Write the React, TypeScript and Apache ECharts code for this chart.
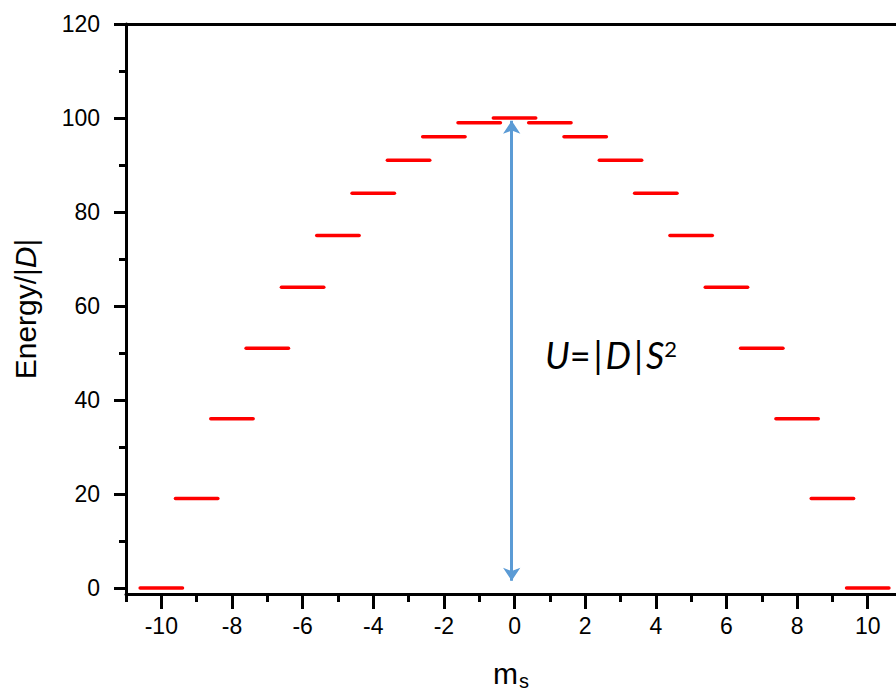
import React, { useEffect, useRef } from 'react';
import * as echarts from 'echarts';

// Spin projections m_s and their energies (in units of |D|)
const spinProjections = [-10, -9, -8, -7, -6, -5, -4, -3, -2, -1, 0, 1, 2, 3, 4, 5, 6, 7, 8, 9, 10];
const levelEnergies = [0, 19, 36, 51, 64, 75, 84, 91, 96, 99, 100, 99, 96, 91, 84, 75, 64, 51, 36, 19, 0];

// Axis ticks
const xMajorTicks = [-10, -8, -6, -4, -2, 0, 2, 4, 6, 8, 10];
const xMinorTicks = [-11, -9, -7, -5, -3, -1, 1, 3, 5, 7, 9];
const yMajorTicks = [0, 20, 40, 60, 80, 100, 120];
const yMinorTicks = [10, 30, 50, 70, 90, 110];

// Barrier arrow: m position and its two tip energies
const barrierArrowM = -0.08;
const barrierArrowTop = 99.4;
const barrierArrowBottom = 1.5;

const X_MIN = -11;
const X_MAX = 10.8;
const Y_MIN = -1.3;
const Y_MAX = 120;
const LEVEL_HALF_WIDTH = 0.6;

const AXIS_FONT = '"Liberation Sans", Arial, sans-serif';
const AXIS_COLOR = '#000';
const FORMULA_FONT = 'Lato, "Open Sans", sans-serif';

export default function App() {
  const ref = useRef<HTMLDivElement>(null);

  useEffect(() => {
    document.body.style.margin = '0';
    if (!ref.current) return;
    const chart = echarts.init(ref.current, undefined, { renderer: 'svg' });

    const levelData = spinProjections.map((m, i) => [m, levelEnergies[i]]);

    const baseX = {
      type: 'value' as const,
      min: X_MIN,
      max: X_MAX,
      splitLine: { show: false },
      gridIndex: 0,
    };
    const baseY = {
      type: 'value' as const,
      min: Y_MIN,
      max: Y_MAX,
      splitLine: { show: false },
      gridIndex: 0,
    };

    chart.setOption({
      animation: false,
      backgroundColor: '#fff',
      grid: { left: 126, right: 0, top: 24, bottom: 98, outerBoundsMode: 'none' },
      xAxis: [
        {
          ...baseX,
          position: 'bottom',
          name: '{m|m}{s|s}',
          nameLocation: 'middle',
          nameGap: 61,
          nameMoveOverlap: false,
          nameTextStyle: {
            rich: {
              m: { fontSize: 30, fontFamily: AXIS_FONT, color: AXIS_COLOR },
              s: { fontSize: 20, fontFamily: AXIS_FONT, color: AXIS_COLOR, padding: [16, 0, 0, 1] },
            },
          },
          axisLine: { show: true, onZero: false, lineStyle: { color: AXIS_COLOR, width: 3 } },
          axisTick: { show: true, customValues: xMinorTicks, length: 8, lineStyle: { color: AXIS_COLOR, width: 3 } },
          axisLabel: {
            show: true,
            customValues: xMajorTicks,
            margin: 20,
            fontSize: 23,
            fontFamily: AXIS_FONT,
            color: AXIS_COLOR,
          },
        },
        {
          ...baseX,
          position: 'bottom',
          axisLine: { show: false, onZero: false },
          axisTick: { show: true, customValues: xMajorTicks, length: 15, lineStyle: { color: AXIS_COLOR, width: 3 } },
          axisLabel: { show: false },
        },
        {
          ...baseX,
          position: 'top',
          axisLine: { show: true, onZero: false, lineStyle: { color: AXIS_COLOR, width: 3 } },
          axisTick: { show: false },
          axisLabel: { show: false },
        },
      ],
      yAxis: [
        {
          ...baseY,
          position: 'left',
          name: '{n|Energy/|}{i|D}{n||}',
          nameLocation: 'middle',
          nameGap: 86,
          nameMoveOverlap: false,
          nameTextStyle: {
            rich: {
              n: { fontSize: 30, fontFamily: AXIS_FONT, color: AXIS_COLOR },
              i: { fontSize: 30, fontFamily: AXIS_FONT, color: AXIS_COLOR, fontStyle: 'italic' },
            },
          },
          axisLine: { show: true, onZero: false, lineStyle: { color: AXIS_COLOR, width: 3 } },
          axisTick: { show: true, customValues: yMajorTicks, length: 12, lineStyle: { color: AXIS_COLOR, width: 3 } },
          axisLabel: {
            show: true,
            customValues: yMajorTicks,
            margin: 26,
            fontSize: 23,
            fontFamily: AXIS_FONT,
            color: AXIS_COLOR,
          },
        },
        {
          ...baseY,
          position: 'left',
          axisLine: { show: false, onZero: false },
          axisTick: { show: true, customValues: yMinorTicks, length: 7, lineStyle: { color: AXIS_COLOR, width: 3 } },
          axisLabel: { show: false },
        },
      ],
      series: [
        {
          type: 'custom',
          name: 'levels',
          xAxisIndex: 0,
          yAxisIndex: 0,
          encode: { x: 0, y: 1 },
          data: levelData,
          renderItem: (_params: any, api: any) => {
            const m = api.value(0);
            const e = api.value(1);
            const p1 = api.coord([m - LEVEL_HALF_WIDTH, e]);
            const p2 = api.coord([m + LEVEL_HALF_WIDTH, e]);
            return {
              type: 'line',
              shape: { x1: p1[0], y1: p1[1], x2: p2[0], y2: p2[1] },
              style: { stroke: '#ff0000', lineWidth: 3.5, lineCap: 'round' },
            };
          },
        },
        {
          type: 'lines',
          name: 'barrier',
          coordinateSystem: 'cartesian2d',
          xAxisIndex: 0,
          yAxisIndex: 0,
          symbol: ['arrow', 'arrow'],
          symbolSize: 13,
          lineStyle: { color: '#5B9BD5', width: 3, opacity: 1, curveness: 0 },
          data: [
            {
              coords: [
                [barrierArrowM, barrierArrowTop],
                [barrierArrowM, barrierArrowBottom],
              ],
            },
          ],
        },
      ],
      graphic: [
        {
          type: 'text',
          x: 545,
          y: 355,
          style: {
            text: '{i|U}{n|=}{b||}{i|D}{b||}{i|S}{sup|2}',
            textVerticalAlign: 'middle',
            textAlign: 'left',
            rich: {
              i: { fontSize: 36, fontFamily: FORMULA_FONT, fontStyle: 'italic', fill: '#000' },
              n: { fontSize: 36, fontFamily: FORMULA_FONT, fill: '#000' },
              b: { fontSize: 36, fontFamily: FORMULA_FONT, fill: '#000', padding: [0, 3, 0, 3] },
              sup: { fontSize: 22, fontFamily: FORMULA_FONT, fill: '#000', verticalAlign: 'top' },
            },
          },
        },
      ],
    });

    return () => chart.dispose();
  }, []);

  return <div ref={ref} style={{ width: 896, height: 692 }} />;
}
